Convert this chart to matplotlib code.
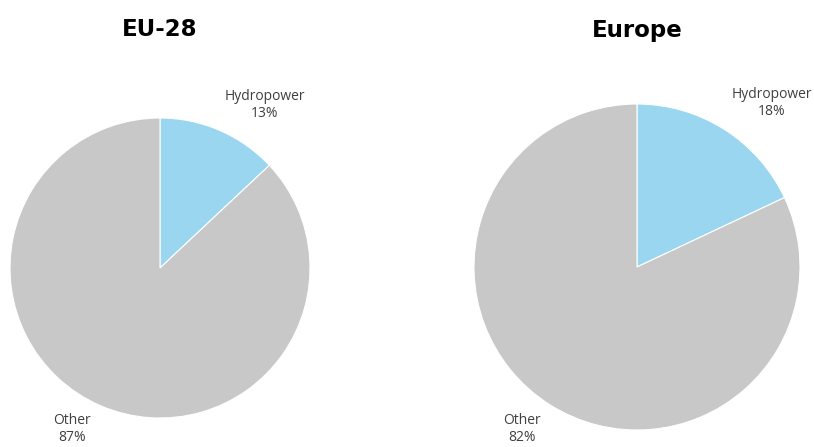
import matplotlib
matplotlib.use('Agg')
import matplotlib.pyplot as plt

# Daten
regions = ['EU-28', 'Europe']
categories = ['Hydropower', 'Other']
shares = {'EU-28': [13, 87], 'Europe': [18, 82]}
colors = ['#9AD6F0', '#C8C8C8']

# Layout in Pixeln (Figur 814 x 447)
W, H = 814, 447
layout = {
    'EU-28': dict(center=(160, H - 268), radius=150, title_x=160,
                  hydro_xy=(265, H - 105), other_xy=(72, H - 429)),
    'Europe': dict(center=(637, H - 267), radius=163, title_x=637,
                   hydro_xy=(772, H - 103), other_xy=(522, H - 429)),
}

fig = plt.figure(figsize=(W / 100, H / 100), dpi=100)
ax = fig.add_axes([0, 0, 1, 1])
ax.set_xlim(0, W)
ax.set_ylim(0, H)
ax.set_aspect('equal')
ax.axis('off')

for reg in regions:
    lay = layout[reg]
    ax.pie(shares[reg], colors=colors, startangle=90, counterclock=False,
           center=lay['center'], radius=lay['radius'],
           wedgeprops=dict(linewidth=0.8, edgecolor='white'))
    ax.text(lay['title_x'], H - 30, reg, ha='center', va='center',
            fontsize=16.5, weight='bold', family='DejaVu Sans', color='black')
    for cat, val, key in zip(categories, shares[reg], ['hydro_xy', 'other_xy']):
        x, y = lay[key]
        ax.text(x, y, f'{cat}\n{val}%', ha='center', va='center',
                fontsize=10, family='Open Sans', color='#404040',
                linespacing=1.2)

ax.set_xlim(0, W)
ax.set_ylim(0, H)
fig.savefig('out.png', dpi=100, facecolor='white')
